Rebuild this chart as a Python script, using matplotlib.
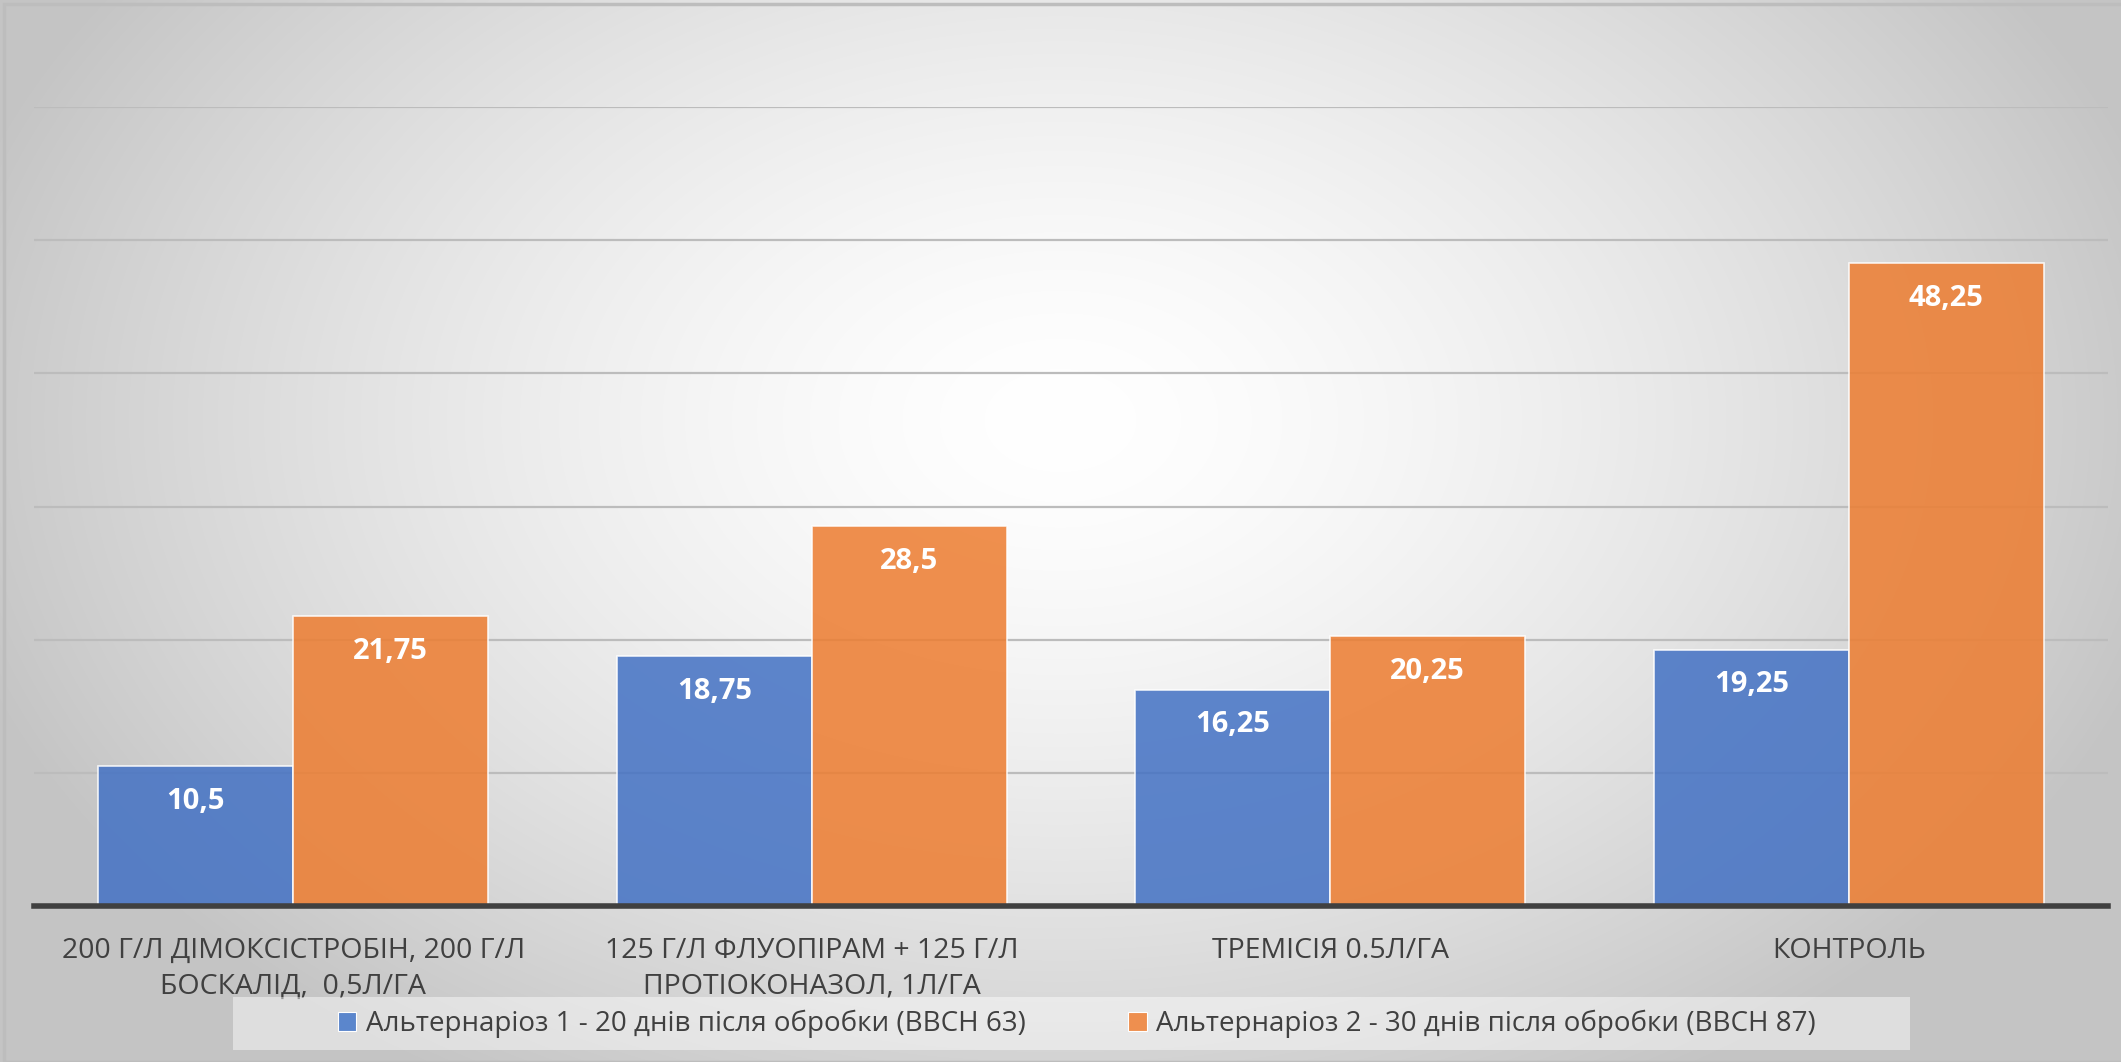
import numpy as np
import matplotlib
matplotlib.use("Agg")
import matplotlib.pyplot as plt
from matplotlib.patches import Rectangle, Patch
from matplotlib import font_manager

categories = ["200 Г/Л ДІМОКСІСТРОБІН, 200 Г/Л\nБОСКАЛІД,  0,5Л/ГА",
              "125 Г/Л ФЛУОПІРАМ + 125 Г/Л\nПРОТІОКОНАЗОЛ, 1Л/ГА",
              "ТРЕМІСІЯ 0.5Л/ГА",
              "КОНТРОЛЬ"]
series1_name = "Альтернаріоз 1 - 20 днів після обробки (ВВСН 63)"
series2_name = "Альтернаріоз 2 - 30 днів після обробки (ВВСН 87)"
series1 = [10.5, 18.75, 16.25, 19.25]
series2 = [21.75, 28.5, 20.25, 48.25]
y_ticks = [0, 10, 20, 30, 40, 50, 60]

names = {f.name for f in font_manager.fontManager.ttflist}
text_font = [f for f in ["Open Sans", "DejaVu Sans"] if f in names]
label_font = [f for f in ["Open Sans", "DejaVu Sans"] if f in names]

W, H = 2121, 1062
fig = plt.figure(figsize=(W / 100, H / 100), dpi=100)

# background radial gradient
bg = fig.add_axes([0, 0, 1, 1], zorder=-10)
yy, xx = np.mgrid[0:H, 0:W]
cx, cy = 1060, 420
r = np.sqrt(((xx - cx) / 1150.0) ** 2 + ((yy - cy) / 780.0) ** 2)
r = np.clip(r, 0, 1)
val = 255 - (255 - 196) * r ** 1.5
img = np.dstack([val, val, val]) / 255.0
bg.imshow(img, aspect="auto", extent=[0, 1, 0, 1], origin="upper")
bg.set_xlim(0, 1); bg.set_ylim(0, 1)
bg.axis("off")
# chart border
bg.add_patch(Rectangle((4 / W, 0), 1, 1 - 4 / H, fill=False, edgecolor="#bdbdbd", lw=2.5,
                       transform=bg.transAxes))

ax = fig.add_axes([34 / W, 1 - 906 / H, (2108 - 34) / W, (906 - 107) / H])
ax.set_facecolor("none")
x = np.arange(len(categories))
bw = 0.376
b1 = ax.bar(x - bw / 2, series1, bw, color="#4472C4", alpha=0.86, edgecolor="white", linewidth=1.2, zorder=3)
b2 = ax.bar(x + bw / 2, series2, bw, color="#ED7D31", alpha=0.86, edgecolor="white", linewidth=1.2, zorder=3)

for bars, vals in ((b1, series1), (b2, series2)):
    for rect, v in zip(bars, vals):
        ax.annotate(f"{v:g}".replace(".", ","), (rect.get_x() + rect.get_width() / 2, v),
                    xytext=(0, -35), textcoords="offset pixels", ha="center", va="center",
                    color="white", fontweight="bold", fontsize=21, family=label_font, zorder=5)

ax.set_xlim(-0.5, len(categories) - 0.5)
ax.set_ylim(0, 60)
ax.set_yticks(y_ticks)
ax.yaxis.grid(True, color="#bcbcbc", linewidth=1.6, zorder=0)
ax.tick_params(axis="y", left=False, labelleft=False)
ax.tick_params(axis="x", bottom=False, pad=19)
ax.set_xticks(x)
ax.set_xticklabels(categories, fontsize=20.5, color="#404040", family=text_font, linespacing=1.35)
for s in ["top", "right", "left"]:
    ax.spines[s].set_visible(False)
ax.spines["bottom"].set_color("#404040")
ax.spines["bottom"].set_linewidth(4)
ax.spines["bottom"].set_zorder(4)

# legend box
fig.patches.append(Rectangle((233 / W, 1 - 1050 / H), (1910 - 233) / W, (1050 - 997) / H,
                             transform=fig.transFigure, facecolor="white", alpha=0.45,
                             edgecolor="none", zorder=1))
handles = [Patch(facecolor="#5B86CC", edgecolor="white", lw=0.8),
           Patch(facecolor="#EE8F4F", edgecolor="white", lw=0.8)]
fig.legend(handles, [series1_name, series2_name], loc="center", bbox_to_anchor=(1077 / W, 1 - 1024 / H),
           ncol=2, frameon=False, prop={"family": text_font, "size": 20}, labelcolor="#404040",
           handlelength=0.65, handleheight=0.65, handletextpad=0.35, columnspacing=3.7)

fig.savefig("out.png", dpi=100)
